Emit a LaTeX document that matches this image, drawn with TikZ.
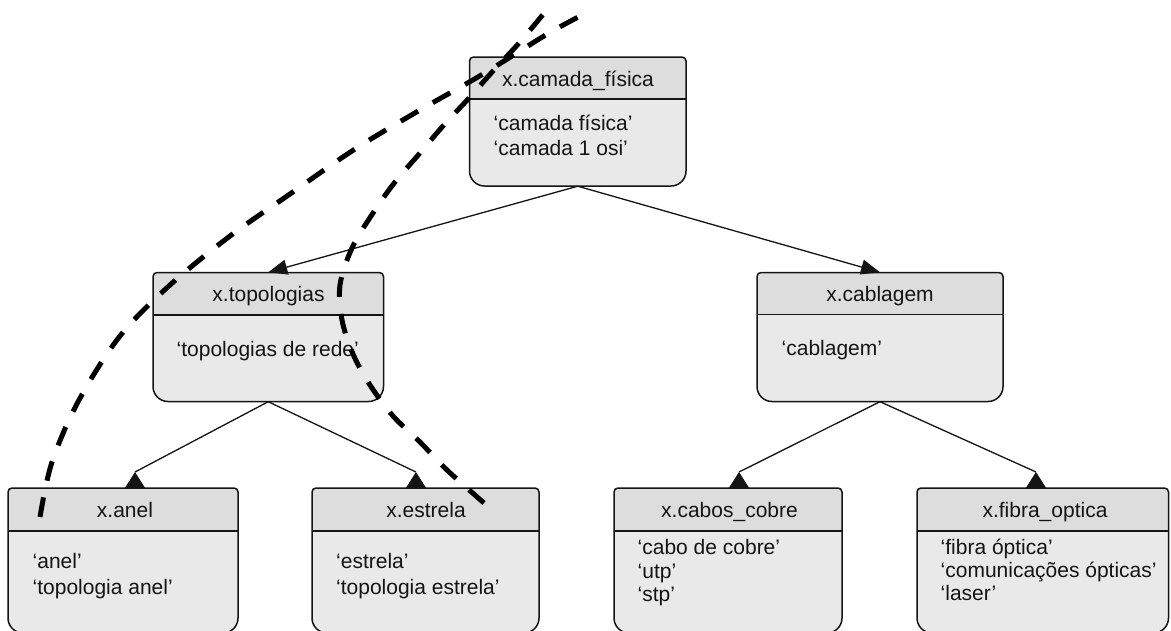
\documentclass[tikz,border=0pt]{standalone}
\usepackage{fontspec}
\setmainfont{Liberation Sans}
\usetikzlibrary{arrows.meta}

\definecolor{headfill}{gray}{0.865}
\definecolor{bodyfill}{gray}{0.915}
\definecolor{inkline}{gray}{0.08}

% state box: name, left, top, right, bottom, divider (y grows downwards)
\newcommand\statebox[6]{%
  \filldraw[frame, fill=bodyfill, rounded corners=15pt]
    (#2,#6) -- (#2,#5) -- (#4,#5) -- (#4,#6);
  \filldraw[frame, fill=headfill, rounded corners=4pt]
    (#4,#6) -- (#4,#3) -- (#2,#3) -- (#2,#6);
  \draw[frame] (#2,#6) -- (#4,#6);
  \node[inner sep=0pt, minimum width={(#4-#2)*1pt}, minimum height={(#5-#3)*1pt}]
    (#1) at ({(#2+#4)/2},{(#3+#5)/2}) {};
}
% left-aligned lines with a given line pitch
\newcommand\linestack[2]{{\fontsize{21}{#1}\selectfont
  \begin{tabular}[t]{@{}l@{}}#2\end{tabular}}}

\begin{document}
\begin{tikzpicture}[x=1pt, y=-1pt,
  frame/.style={line width=1.5pt, draw=inkline},
  title/.style={anchor=base, inner sep=0pt, font=\fontsize{21}{25}\selectfont, text=inkline},
  bodytext/.style={anchor=base west, inner sep=0pt, text=inkline},
  link/.style={line width=1.3pt, draw=inkline, -{Triangle[length=19pt, width=15pt]}},
  linkline/.style={line width=1.3pt, draw=inkline},
  uptip/.style={fill=inkline},
  annot/.style={line width=5pt, draw=black, dash pattern=on 20pt off 17pt}]

\useasboundingbox (0,0) rectangle (1171,630);
\clip (0,0) rectangle (1171,630);
\fill[white] (0,0) rectangle (1171,630);

% boxes
\statebox{camada}{469.5}{57}{686}{186}{99}
\statebox{topo}{153}{272.5}{383.5}{401.5}{315}
\statebox{cabl}{757}{272.5}{1003}{401.5}{314.5}
\statebox{anel}{8}{488}{238}{633}{531}
\statebox{estrela}{312}{488}{539}{633}{531}
\statebox{cobre}{614}{488}{842}{633}{531}
\statebox{fibra}{917}{488}{1168.5}{633}{531}

% titles
\node[title] (camada-t)  at (578,86)    {x.camada\_física};
\node[title] (topo-t)    at (268.5,301.5) {x.topologias};
\node[title] (cabl-t)    at (880,301.5) {x.cablagem};
\node[title] (anel-t)    at (125,517)   {x.anel};
\node[title] (estrela-t) at (426,517)   {x.estrela};
\node[title] (cobre-t)   at (729.5,517) {x.cabos\_cobre};
\node[title] (fibra-t)   at (1045,517)  {x.fibra\_optica};

% contents
\node[bodytext] (camada-b)  at (493.5,130) {\linestack{25}{‘camada física’\\‘camada 1 osi’}};
\node[bodytext] (topo-b)    at (176.5,356) {\linestack{25}{‘topologias de rede’}};
\node[bodytext] (cabl-b)    at (781.5,355) {\linestack{25}{‘cablagem’}};
\node[bodytext] (anel-b)    at (32.5,568)  {\linestack{26.5}{‘anel’\\‘topologia anel’}};
\node[bodytext] (estrela-b) at (336,568)   {\linestack{26.5}{‘estrela’\\‘topologia estrela’}};
\node[bodytext] (cobre-b)   at (637.5,554.5) {\linestack{23.7}{‘cabo de cobre’\\‘utp’\\‘stp’}};
\node[bodytext] (fibra-b)   at (940.5,554) {\linestack{23.4}{‘fibra óptica’\\‘comunicações ópticas’\\‘laser’}};

% hierarchy links
\draw[link] (camada.south) -- (topo.north);
\draw[link] (camada.south) -- (cabl.north);

\coordinate (anel-tip)    at (135,472);
\coordinate (estrela-tip) at (416,472);
\coordinate (cobre-tip)   at (739,472);
\coordinate (fibra-tip)   at (1036,472);

\foreach \parent/\child in {topo/anel, topo/estrela, cabl/cobre, cabl/fibra}{
  \draw[linkline] (\parent.south) -- (\child-tip);
  \fill[uptip] (\child-tip) -- ++(-10.5,16.5) -- ++(21,0) -- cycle;
}

% hand-drawn dashed strokes
\draw[annot] plot[smooth, tension=0.55] coordinates {
  (40,517) (52,462) (79,400) (120,336) (170,285) (230,236) (290,194)
  (355,149) (420,110) (483,74) (549,33) (590,11)};
\draw[annot] plot[smooth, tension=0.55] coordinates {
  (484,503) (447,470) (420,442) (393,416) (370,385) (353,354) (342,320)
  (340,285) (352,248) (373,213) (395,182) (420,153) (443,126) (470,97)
  (493,71) (520,42) (545,12)};

\end{tikzpicture}
\end{document}
